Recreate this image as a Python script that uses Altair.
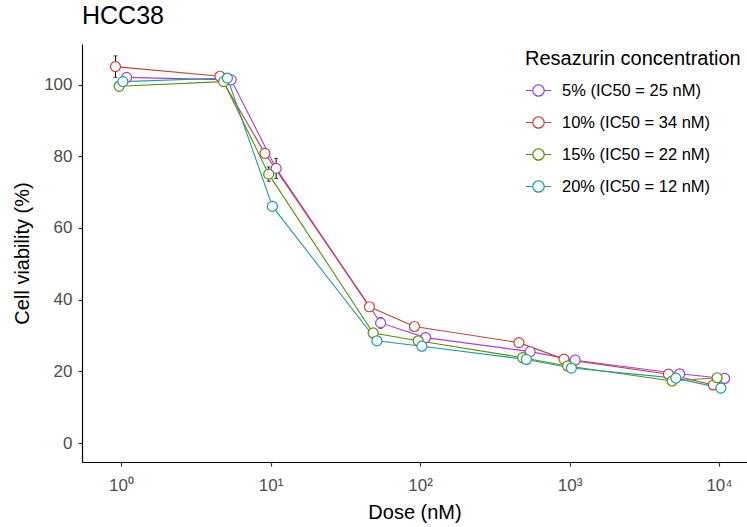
import altair as alt
import pandas as pd

FONT = "Liberation Sans"

# Doses (nM) and mean viability (%) per resazurin concentration
doses = [1, 5, 10, 50, 100, 500, 1000, 5000, 10000]
groups = ["5% (IC50 = 25 nM)", "10% (IC50 = 34 nM)", "15% (IC50 = 22 nM)", "20% (IC50 = 12 nM)"]
colors = ["#A43EE0", "#C5443A", "#5B8E0A", "#1E9C9C"]

via_5 = [102.0, 101.3, 76.6, 33.5, 29.4, 25.5, 23.1, 19.3, 18.0]
via_10 = [105.0, 102.3, 80.8, 38.0, 32.5, 28.0, 23.4, 19.2, 16.2]
via_15 = [99.5, 100.8, 75.0, 30.7, 28.5, 23.8, 21.5, 17.3, 18.2]
via_20 = [100.8, 101.8, 66.0, 28.5, 27.0, 23.3, 20.9, 18.1, 15.3]

sd_5 = [1.0, 0.8, 2.8, 1.5, 1.2, 1.0, 0.8, 0.8, 0.8]
sd_10 = [3.0, 0.8, 1.2, 1.0, 1.0, 1.0, 0.8, 0.8, 0.8]
sd_15 = [1.0, 0.8, 2.0, 1.2, 1.0, 0.8, 0.8, 0.8, 0.8]
sd_20 = [1.0, 0.8, 1.0, 1.0, 0.8, 0.8, 0.8, 0.8, 0.8]

x_ticks = [1, 10, 100, 1000, 10000]
y_ticks = [0, 20, 40, 60, 80, 100]

# Side-by-side dodge in log10 space, groups ordered alphabetically
dodge_width = 0.1
dodge_order = sorted(groups)

rows = []
for g, vals, sds in zip(groups, [via_5, via_10, via_15, via_20], [sd_5, sd_10, sd_15, sd_20]):
    k = dodge_order.index(g)
    shift = (k - 1.5) * dodge_width / len(groups)
    for d, v, s in zip(doses, vals, sds):
        rows.append({"group": g, "dose": d, "x": d * 10 ** shift,
                     "viability": v, "lo": v - s, "hi": v + s})
df = pd.DataFrame(rows)

x_scale = alt.Scale(type="log", domain=[0.548, 15390], nice=False)
y_scale = alt.Scale(domain=[-5.3, 111.3], nice=False, zero=False)
color_scale = alt.Scale(domain=groups, range=colors)

x_enc = alt.X("x:Q", scale=x_scale, title="Dose (nM)",
              axis=alt.Axis(values=x_ticks, labelPadding=11,
                            labelExpr="'10' + ['⁰','¹','²','³','⁴'][round(log(datum.value)/LN10)]",
                            titleY=50, titleBaseline="middle"))
y_axis = alt.Axis(values=y_ticks, labelPadding=6, titleX=-60, titleY=209,
                  titleBaseline="middle", titleAngle=270)

legend_symbol = ("M-1,0L-0.456,0M0.456,0L1,0M0.456,0"
                 "A0.456,0.456,0,1,1,-0.456,0A0.456,0.456,0,1,1,0.456,0")
legend = alt.Legend(title="Resazurin concentration", orient="none",
                    legendX=443, legendY=5, padding=0,
                    symbolType=legend_symbol, symbolSize=625,
                    symbolStrokeWidth=1.2, symbolFillColor="white",
                    labelOffset=10, rowPadding=10, titlePadding=8,
                    labelFontSize=16.5, titleFontSize=20, titleLimit=400, labelLimit=300,
                    labelFont=FONT, titleFont=FONT, titleFontWeight="normal",
                    labelColor="black", titleColor="black")
stroke_enc = alt.Stroke("group:N", scale=color_scale, legend=legend)

base = alt.Chart(df)

err = base.mark_rule(color="black", strokeWidth=1).encode(
    x=x_enc, y=alt.Y("lo:Q", scale=y_scale, title="Cell viability (%)", axis=y_axis), y2="hi:Q")
cap_lo = base.mark_tick(color="black", orient="horizontal", size=4, thickness=1).encode(
    x="x:Q", y="lo:Q")
cap_hi = base.mark_tick(color="black", orient="horizontal", size=4, thickness=1).encode(
    x="x:Q", y="hi:Q")

lines = base.mark_line(strokeWidth=1.1).encode(
    x="x:Q", y="viability:Q", stroke=stroke_enc, order="x:Q")

points = base.mark_point(shape="circle", size=100, strokeWidth=1.2, fill="white",
                         fillOpacity=1, opacity=1).encode(
    x="x:Q", y="viability:Q", stroke=stroke_enc)

chart = alt.layer(err, cap_lo, cap_hi, lines, points).properties(
    width=665, height=418,
    title=alt.TitleParams("HCC38", anchor="start", frame="group", fontSize=25,
                          font=FONT, fontWeight="normal", color="black",
                          baseline="alphabetic", offset=19, dy=24),
    autosize=alt.AutoSizeParams(type="none"),
    padding={"left": 82, "top": 44, "right": 0, "bottom": 65},
).configure(background="white").configure_view(stroke=None).configure_axis(
    grid=False, domainColor="black", domainWidth=1.2,
    tickColor="#333333", tickSize=4, tickWidth=1.2,
    labelColor="#4D4D4D", labelFontSize=17, labelFont=FONT,
    titleColor="black", titleFontSize=20, titleFont=FONT, titleFontWeight="normal",
)

chart.save("out.html", embed_options={"renderer": "svg", "actions": False})
